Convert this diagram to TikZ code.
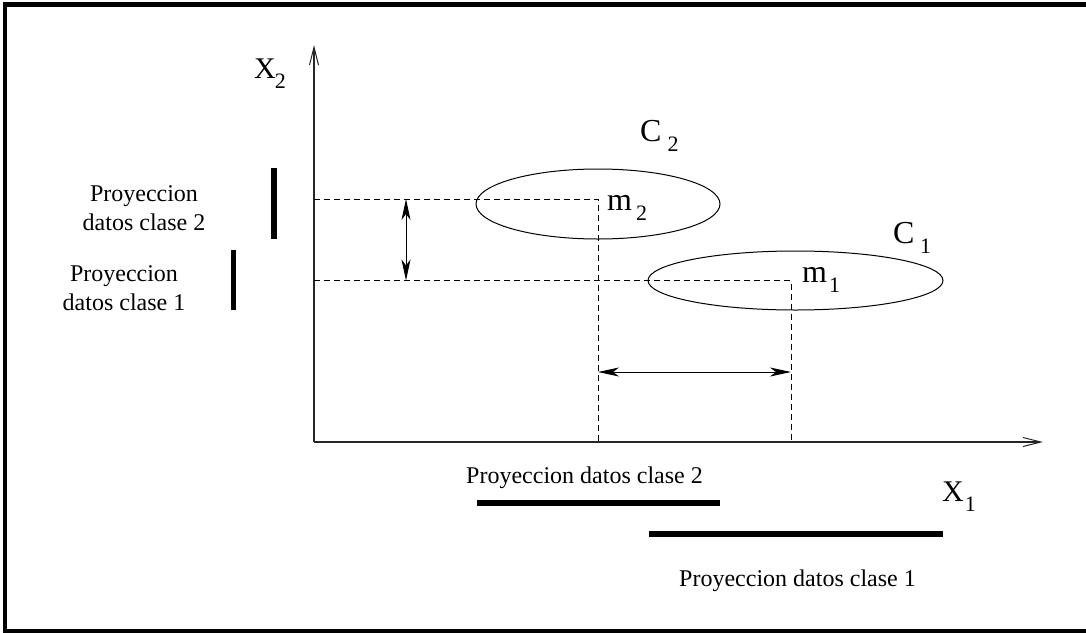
\documentclass[tikz,border=0pt]{standalone}
\usepackage{fontspec}
\setmainfont{Liberation Serif}
\usetikzlibrary{arrows.meta}
\newcommand{\fsz}[1]{\fontsize{#1}{#1}\selectfont}
\newcommand{\lowsub}[2][0pt]{\hspace{#1}\raisebox{-10.5pt}{\fsz{22}#2}}
\tikzset{
  frame/.style={line width=4.5pt},
  axis/.style={line width=1.2pt, draw=black!85, -{Straight Barb[length=18pt,width=9pt,line width=1pt]}},
  dashline/.style={line width=0.9pt, dash pattern=on 6pt off 4pt},
  dbl/.style={line width=1pt, {Stealth[length=21pt,width=9pt,inset=6pt]}-{Stealth[length=21pt,width=9pt,inset=6pt]}},
  bar/.style={line width=5.5pt},
  cluster/.style={line width=1pt},
  biglab/.style={inner sep=0pt, anchor=base west, font=\fsz{32}},
  axlab/.style={inner sep=0pt, anchor=base west, font=\fsz{30}},
  txt/.style={inner sep=0pt, font=\fsz{24}},
  sidetxt/.style={txt, align=center, font=\fontsize{24}{29.5}\selectfont},
}
\begin{document}
\begin{tikzpicture}[x=1pt,y=-1pt]
\useasboundingbox (0,0) rectangle (1086,632);
\clip (0,0) rectangle (1086,632);
\draw[frame] (5,4.5) rectangle (1100,631.5);

% key points
\coordinate (O) at (314,442);
\coordinate (ytip) at (314,45);
\coordinate (xtip) at (1043,442);
\coordinate (m2) at (598,199);
\coordinate (m1) at (791,280.5);
\coordinate (va) at (406,0);
\coordinate (ha) at (0,372);

% axes
\draw[axis] (O) -- (ytip);
\draw[axis] (O) -- (xtip);

% clusters
\draw[cluster] (598,204) ellipse [x radius=122, y radius=35];
\draw[cluster] (795.5,280.5) ellipse [x radius=147.5, y radius=29.5];

% projections
\draw[dashline] (O |- m2) -- (m2) -- (m2 |- O);
\draw[dashline] (O |- m1) -- (m1) -- (m1 |- O);

% distances
\draw[dbl] (va |- m2) -- (va |- m1);
\draw[dbl] (m2 |- ha) -- (m1 |- ha);

% labels
\node[axlab] (lx2) at (254,78) {X\lowsub[-1pt]{2}};
\node[axlab] (lx1) at (942,501) {X\lowsub[1pt]{1}};
\node[biglab] (lc2) at (640,141) {C\lowsub[6pt]{2}};
\node[biglab] (lc1) at (893,243) {C\lowsub[5.5pt]{1}};
\node[biglab] (lm2) at (607,210) {m\lowsub[4pt]{2}};
\node[biglab] (lm1) at (802,282) {m\lowsub[2pt]{1}};

\node[sidetxt] (p2) at (144,208) {Proyeccion\\datos clase 2};
\node[sidetxt] (p1) at (124,288) {Proyeccion\\datos clase 1};
\node[txt, anchor=base west] (b2) at (466,483) {Proyeccion datos clase 2};
\node[txt, anchor=base west] (b1) at (679,586) {Proyeccion datos clase 1};

% projection bars
\draw[bar] (274,168) -- (274,239);
\draw[bar] (233.5,250) -- (233.5,310);
\draw[bar] (477,503) -- (720,503);
\draw[bar] (649,534) -- (943,534);
\end{tikzpicture}
\end{document}
